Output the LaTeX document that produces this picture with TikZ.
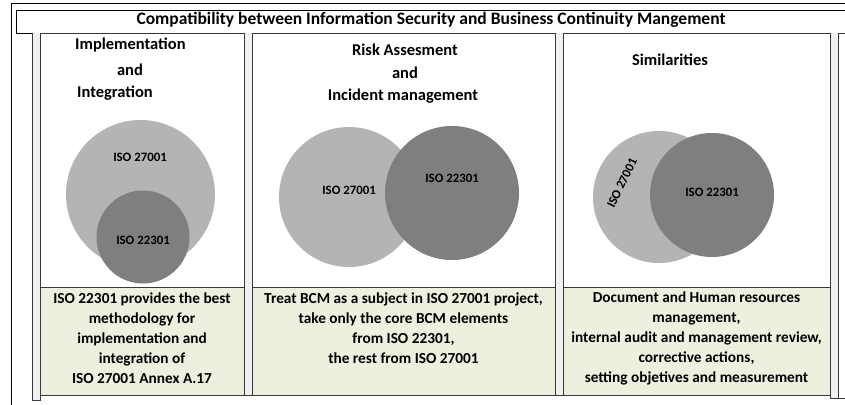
\documentclass[tikz,border=0pt]{standalone}
\usepackage{fontspec}
\setmainfont{Carlito}
\definecolor{lightc}{HTML}{B4B4B4}
\definecolor{darkc}{HTML}{7F7F7F}
\definecolor{greenf}{HTML}{EBF1DE}
\definecolor{stripf}{HTML}{F0F0F0}
\definecolor{edge}{HTML}{3A3A3A}
\begin{document}
\begin{tikzpicture}[x=1pt,y=-1pt,
  frame/.style={draw=black, line width=0.8pt},
  colbox/.style={draw=edge, line width=0.8pt, fill=white},
  greenbox/.style={draw=edge, line width=0.8pt, fill=greenf},
  stripbox/.style={draw=edge, line width=0.8pt, fill=stripf},
  titletext/.style={font=\fontsize{17.5}{20}\selectfont\bfseries, inner sep=0pt},
  headtext/.style={font=\fontsize{16.5}{19}\selectfont\bfseries, inner sep=0pt},
  bodytext/.style={font=\fontsize{15.3}{20}\selectfont\bfseries, align=center, inner sep=0pt},
  circtext/.style={font=\fontsize{12.8}{14}\selectfont\bfseries, inner sep=0pt},
  lightcirc/.style={fill=lightc, draw=none},
  darkcirc/.style={fill=darkc, draw=none}]
\useasboundingbox (0,0) rectangle (845,404);
% outer frame
\draw[frame] (11,412) -- (11,3) -- (860,3);
% title box outline
\draw[frame] (860,10) -- (16,10) -- (16,33) -- (32,33);
% strips
\draw[stripbox] (32,33) -- (32,400) -- (40,400) -- (40,33);
\draw[stripbox] (244,33) -- (244,395) -- (252,395) -- (252,33);
\draw[stripbox] (555,33) -- (555,395) -- (563,395) -- (563,33);
\draw[stripbox] (830,33) -- (830,398) -- (838,398) -- (838,33);
% columns
\draw[colbox] (40,33) rectangle (244,395);
\draw[colbox] (252,33) rectangle (555,395);
\draw[colbox] (563,33) rectangle (830,395);
\draw[colbox] (838,33) rectangle (870,398);
% circles
\fill[lightcirc] (140.5,194.5) circle (74.5);
\fill[darkcirc] (143,237) circle (46.5);
\fill[lightcirc] (349,197) circle (70);
\fill[darkcirc] (452,193) circle (67);
\fill[lightcirc] (659,197) circle (66);
\fill[darkcirc] (712,195) circle (62);
% green boxes
\draw[greenbox] (40,287) rectangle (244,395);
\draw[greenbox] (252,287) rectangle (555,395);
\draw[greenbox] (563,287) rectangle (830,395);
% title
\node[titletext] (title) at (431,20) {Compatibility between Information Security and Business Continuity Mangement};
% headings
\node[headtext, anchor=west] (h1a) at (75,45) {Implementation};
\node[headtext] (h1b) at (130,70) {and};
\node[headtext, anchor=west] (h1c) at (77,93) {Integration};
\node[headtext] (h2a) at (405,50) {Risk Assesment};
\node[headtext] (h2b) at (405,73) {and};
\node[headtext] (h2c) at (403,96) {Incident management};
\node[headtext] (h3a) at (670,60) {Similarities};
% circle labels
\node[circtext] (c1a) at (140,157) {ISO 27001};
\node[circtext] (c1b) at (143,240) {ISO 22301};
\node[circtext] (c2a) at (349,190) {ISO 27001};
\node[circtext] (c2b) at (452,178) {ISO 22301};
\node[circtext, rotate=64] (c3a) at (622,183) {ISO 27001};
\node[circtext] (c3b) at (712,192) {ISO 22301};
% body texts
\node[bodytext] (b1) at (142,338) {ISO 22301 provides the best\\methodology for\\implementation and\\integration of\\ISO 27001 Annex A.17};
\node[bodytext] (b2) at (403.5,328) {Treat BCM as a subject in ISO 27001 project,\\take only the core BCM elements\\from ISO 22301,\\the rest from ISO 27001};
\node[bodytext] (b3) at (696.5,338) {Document and Human resources\\management,\\internal audit and management review,\\corrective actions,\\setting objetives and measurement};
\end{tikzpicture}
\end{document}
